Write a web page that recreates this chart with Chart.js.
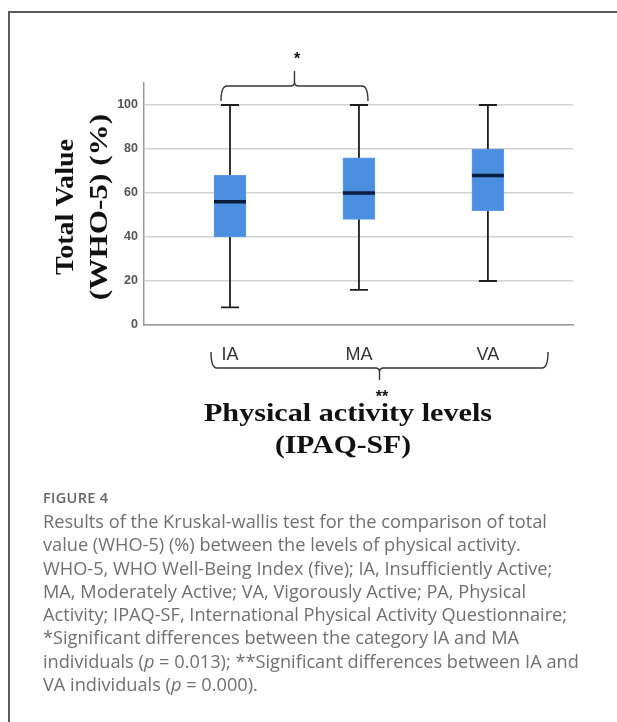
<!DOCTYPE html>
<html><head><meta charset="utf-8">
<script src="https://cdn.jsdelivr.net/npm/chart.js@4"></script>
<style>
html,body{margin:0;padding:0;background:#fff;width:617px;height:722px;overflow:hidden}
#frame{position:absolute;left:8px;top:11px;width:700px;height:800px;border-top:2px solid #5a5a5a;border-left:2px solid #5a5a5a}
canvas{position:absolute;left:0;top:0}
#fig{position:absolute;left:43px;top:488px;font:600 14.5px "Open Sans", sans-serif;color:#666;letter-spacing:0.3px}
#cap{position:absolute;left:43px;top:510px;font:18.2px "Open Sans", sans-serif;color:#707070;line-height:23.3px;white-space:nowrap}
</style></head><body>
<div id="frame"></div>
<canvas id="c" width="617" height="722"></canvas>
<div id="fig">FIGURE 4</div>
<div id="cap">Results of the Kruskal-wallis test for the comparison of total<br>value (WHO-5) (%) between the levels of physical activity.<br>WHO-5, WHO Well-Being Index (five); IA, Insufficiently Active;<br>MA, Moderately Active; VA, Vigorously Active; PA, Physical<br>Activity; IPAQ-SF, International Physical Activity Questionnaire;<br>*Significant differences between the category IA and MA<br>individuals (<i>p</i> = 0.013); **Significant differences between IA and<br>VA individuals (<i>p</i> = 0.000).</div>
<script>
const categories = ['IA', 'MA', 'VA'];
const whiskerMin = [8, 16, 20];
const q1 = [40, 48, 52];
const median = [56, 60, 68];
const q3 = [68, 76, 80];
const whiskerMax = [100, 100, 100];
const yTicks = [0, 20, 40, 60, 80, 100];

function brace(ctx, x1, x2, yEnd, yMid, yTip) {
  const xm = (x1 + x2) / 2, r = 6, s = yTip < yMid ? -1 : 1;
  ctx.beginPath();
  ctx.moveTo(x1, yEnd);
  ctx.quadraticCurveTo(x1, yMid, x1 + r, yMid);
  ctx.lineTo(xm - 4, yMid);
  ctx.quadraticCurveTo(xm, yMid, xm, yMid + s * 4);
  ctx.lineTo(xm, yTip);
  ctx.moveTo(xm, yMid + s * 4);
  ctx.quadraticCurveTo(xm, yMid, xm + 4, yMid);
  ctx.lineTo(x2 - r, yMid);
  ctx.quadraticCurveTo(x2, yMid, x2, yEnd);
  ctx.stroke();
}

function stretchedText(ctx, text, x, y, sx) {
  ctx.save();
  ctx.translate(x, y);
  ctx.scale(sx, 1);
  ctx.fillText(text, 0, 0);
  ctx.restore();
}

const annot = {
  id: 'annot',
  beforeDatasetsDraw(chart) {
    const ctx = chart.ctx, xs = chart.scales.x, ys = chart.scales.y;
    ctx.save();
    ctx.strokeStyle = '#1e1e1e';
    ctx.lineWidth = 1.8;
    categories.forEach((c, i) => {
      const x = xs.getPixelForValue(i);
      ctx.beginPath();
      ctx.moveTo(x, ys.getPixelForValue(whiskerMin[i]));
      ctx.lineTo(x, ys.getPixelForValue(whiskerMax[i]));
      [whiskerMin[i], whiskerMax[i]].forEach(v => {
        const y = ys.getPixelForValue(v);
        ctx.moveTo(x - 9, y); ctx.lineTo(x + 9, y);
      });
      ctx.stroke();
    });
    ctx.restore();
  },
  afterDatasetsDraw(chart) {
    const ctx = chart.ctx, xs = chart.scales.x, ys = chart.scales.y;
    ctx.save();
    ctx.strokeStyle = '#0b1c3c';
    ctx.lineWidth = 3.5;
    categories.forEach((c, i) => {
      const x = xs.getPixelForValue(i), y = ys.getPixelForValue(median[i]);
      ctx.beginPath(); ctx.moveTo(x - 16, y); ctx.lineTo(x + 16, y); ctx.stroke();
    });
    ctx.restore();
  },
  afterDraw(chart) {
    const ctx = chart.ctx, xs = chart.scales.x, ys = chart.scales.y;
    ctx.save();
    ctx.strokeStyle = '#333';
    ctx.lineWidth = 1.4;
    const yTop = ys.getPixelForValue(100);
    brace(ctx, xs.getPixelForValue(0) - 9, xs.getPixelForValue(1) + 9, yTop - 4, yTop - 19, yTop - 34);
    brace(ctx, 211, 548, 352, 368, 380);
    ctx.fillStyle = '#111';
    ctx.textAlign = 'center';
    ctx.textBaseline = 'middle';
    ctx.font = 'bold 16px "Liberation Sans"';
    ctx.fillText('*', 297, 60);
    ctx.fillText('**', 382, 398);
    ctx.font = 'bold 26px "Liberation Serif"';
    stretchedText(ctx, 'Physical activity levels', 348, 414, 1.16);
    stretchedText(ctx, '(IPAQ-SF)', 343, 446, 1.14);
    ctx.translate(0, 207);
    ctx.rotate(-Math.PI / 2);
    stretchedText(ctx, 'Total Value', 0, 66, 1.08);
    stretchedText(ctx, '(WHO-5) (%)', 0, 100, 1.2);
    ctx.restore();
  }
};

new Chart(document.getElementById('c'), {
  type: 'bar',
  data: {
    datasets: [{
      data: categories.map((c, i) => ({ x: i, y: [q1[i], q3[i]] })),
      backgroundColor: '#4a8fe0',
      borderColor: '#5d9de8',
      borderWidth: 1,
      borderSkipped: false,
      barThickness: 32
    }]
  },
  options: {
    responsive: false,
    animation: false,
    devicePixelRatio: 1,
    layout: { padding: { left: 0, right: 44, top: 83, bottom: 337 } },
    plugins: { legend: { display: false }, tooltip: { enabled: false } },
    scales: {
      x: {
        type: 'linear',
        offset: false,
        min: -0.667, max: 2.66,
        grid: { display: false, offset: false },
        border: { color: '#9a9a9a', width: 1.5 },
        afterBuildTicks: s => { s.ticks = categories.map((c, i) => ({ value: i })); },
        afterFit: s => { s.height = 60; },
        ticks: {
          callback: v => categories[v],
          font: { family: '"Liberation Sans"', size: 18 },
          color: '#333',
          padding: 11,
          maxRotation: 0
        }
      },
      y: {
        min: 0, max: 110,
        afterBuildTicks: s => { s.ticks = yTicks.map(v => ({ value: v })); },
        afterFit: s => { s.width = 144; },
        grid: { color: '#d2d2d2', lineWidth: 1.5, drawTicks: false },
        border: { color: '#9a9a9a', width: 1.5 },
        ticks: {
          font: { family: '"Liberation Sans"', size: 12.5, weight: 'bold' },
          color: '#555',
          padding: 6
        }
      }
    }
  },
  plugins: [annot]
});
</script>
</body></html>
